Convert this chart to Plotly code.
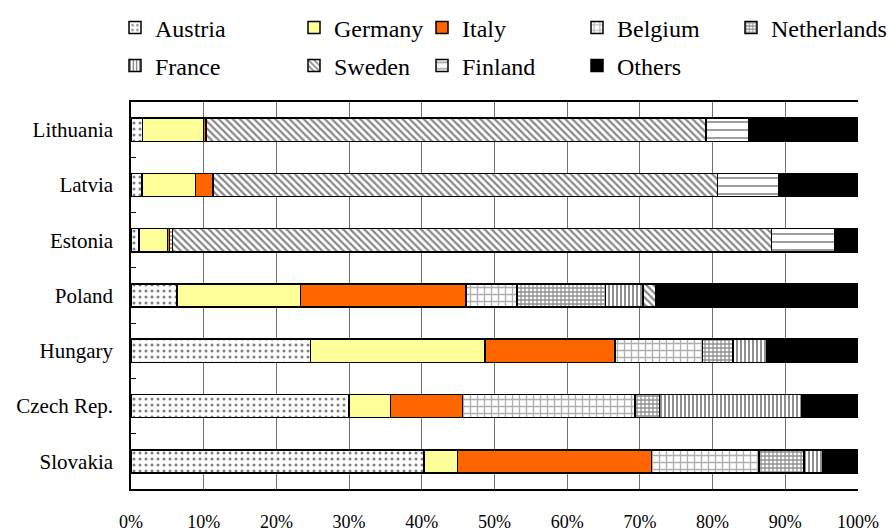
import plotly.graph_objects as go

countries = ["Lithuania", "Latvia", "Estonia", "Poland", "Hungary", "Czech Rep.", "Slovakia"]

austria     = [1.6, 1.5, 1.1, 6.3, 24.7, 30.0, 40.3]
germany     = [8.4, 7.4, 3.9, 17.0, 24.0, 5.7, 4.6]
italy       = [0.3, 2.4, 0.3, 22.8, 17.9, 9.9, 26.7]
belgium     = [0.0, 0.0, 0.0, 7.0, 12.0, 23.7, 14.8]
netherlands = [0.0, 0.0, 0.4, 12.2, 4.2, 3.4, 6.2]
france      = [0.0, 0.0, 0.0, 5.1, 4.7, 19.6, 2.6]
sweden      = [68.8, 69.4, 82.4, 1.8, 0.0, 0.0, 0.0]
finland     = [5.9, 8.4, 8.7, 0.0, 0.0, 0.0, 0.0]
others      = [15.0, 10.9, 3.2, 27.8, 12.5, 7.7, 4.8]

xticks = [0, 10, 20, 30, 40, 50, 60, 70, 80, 90, 100]
xtick_labels = ["0%", "10%", "20%", "30%", "40%", "50%", "60%", "70%", "80%", "90%", "100%"]

series = [
    ("Austria", austria, dict(color="white", pattern=dict(shape=".", fgcolor="black", bgcolor="white", size=6, solidity=0.2))),
    ("Germany", germany, dict(color="#FFFF99")),
    ("Italy", italy, dict(color="#FF6600")),
    ("Belgium", belgium, dict(color="white", pattern=dict(shape="+", fgcolor="#606060", bgcolor="white", size=7, solidity=0.35))),
    ("Netherlands", netherlands, dict(color="white", pattern=dict(shape="+", fgcolor="#202020", bgcolor="white", size=4, solidity=0.55))),
    ("France", france, dict(color="white", pattern=dict(shape="|", fgcolor="#202020", bgcolor="white", size=4, solidity=0.5))),
    ("Sweden", sweden, dict(color="white", pattern=dict(shape="\\", fgcolor="#101010", bgcolor="white", size=5, solidity=0.45))),
    ("Finland", finland, dict(color="white", pattern=dict(shape="-", fgcolor="#404040", bgcolor="white", size=8, solidity=0.25))),
    ("Others", others, dict(color="black")),
]

SERIF = "Liberation Serif"

W, H = 892, 531
ml, mr, mt, mb = 131, 34, 102, 42
pw, ph = W - ml - mr, H - mt - mb
text_x = [155, 155, 334, 334, 462, 462, 617, 617, 771]
row_y = [28, 66, 28, 66, 28, 66, 28, 66, 28]
order_pos = {"Austria": 0, "France": 1, "Germany": 2, "Sweden": 3, "Italy": 4,
             "Finland": 5, "Belgium": 6, "Others": 7, "Netherlands": 8}

fig = go.Figure()
layout_legends = {}
for i, (name, vals, mk) in enumerate(series):
    lname = "legend" if i == 0 else f"legend{i+1}"
    p = order_pos[name]
    mk = dict(mk)
    mk["line"] = dict(color="black", width=1.5)
    fig.add_trace(go.Bar(
        y=countries, x=vals, name=name, orientation="h",
        marker=mk, legend=lname,
    ))
    layout_legends[lname] = dict(
        x=(text_x[p] - 40 - ml) / pw, xanchor="left",
        y=(H - mb - row_y[p]) / ph, yanchor="middle",
        font=dict(family=SERIF, size=24, color="black"),
        bgcolor="rgba(0,0,0,0)", borderwidth=0,
    )

fig.update_layout(
    barmode="stack",
    bargap=0.58,
    width=W, height=H,
    margin=dict(l=ml, r=mr, t=mt, b=mb, pad=0, autoexpand=False),
    paper_bgcolor="white", plot_bgcolor="white",
    font=dict(family=SERIF, color="black"),
    showlegend=True,
    **layout_legends,
)
fig.update_xaxes(
    range=[0, 100], tickvals=xticks, ticktext=xtick_labels,
    showgrid=True, gridcolor="#707070", gridwidth=1,
    showline=True, linecolor="black", linewidth=1.5, mirror=True,
    ticks="", ticklabelstandoff=16, zeroline=False,
    tickfont=dict(family=SERIF, size=18, color="black"),
)
fig.update_yaxes(
    autorange="reversed", categoryorder="array", categoryarray=countries,
    showline=True, linecolor="black", linewidth=1.5,
    ticks="inside", tickson="boundaries", ticklen=5, tickcolor="black", tickwidth=1,
    showgrid=False, ticklabelstandoff=12,
    tickfont=dict(family=SERIF, size=21, color="black"),
)

fig.write_html("out.html", config={"displayModeBar": False},
               post_script="document.body.style.margin='0';")
